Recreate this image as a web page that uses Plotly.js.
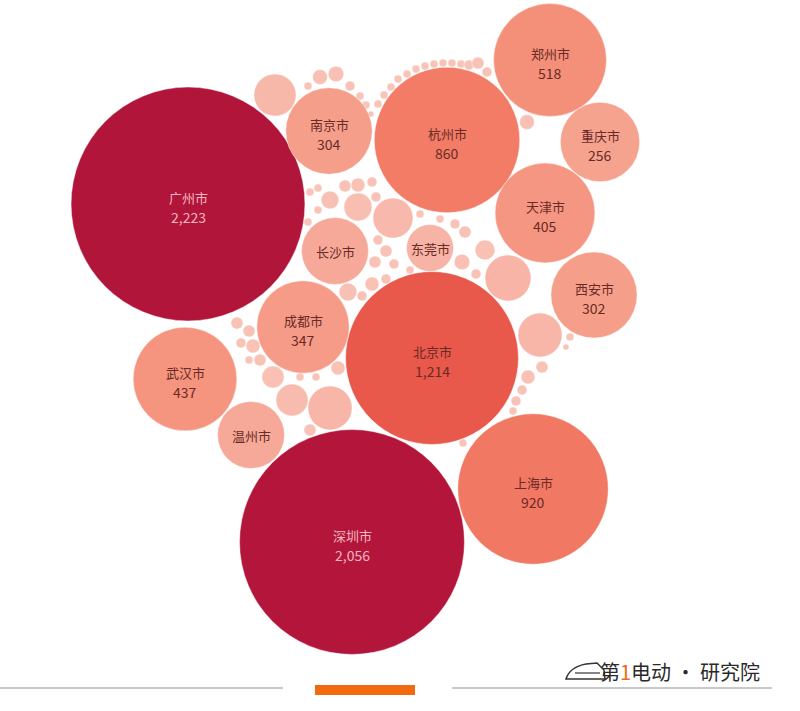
<!DOCTYPE html>
<html>
<head>
<meta charset="utf-8">
<script src="https://cdn.plot.ly/plotly-3.0.1.min.js"></script>
<style>html,body{margin:0;padding:0;background:#fff;}#chart{width:800px;height:711px;}</style>
</head>
<body>
<div id="chart"></div>
<script>
// Labelled cities and their values
const cities = ['广州市','深圳市','北京市','上海市','杭州市','郑州市','武汉市','天津市','成都市','南京市','西安市','重庆市','长沙市','温州市','东莞市'];
const values = [2223, 2056, 1214, 920, 860, 518, 437, 405, 347, 304, 302, 256, 182, 182, 90];
const valueShown = [true,true,true,true,true,true,true,true,true,true,true,true,false,false,false];
// Pack layout positions of the labelled bubbles (axis units)
const packX = [188, 352, 432, 533, 447, 550, 185, 545, 303, 329, 594, 600, 335, 251, 430];
const packY = [204, 542, 358, 489, 140, 60, 379, 213, 327, 131, 295, 142, 251, 435, 248];

// Unlabelled small cities: estimated values
const minorValues = [72,9,10,2.6,4,2.6,2.6,1.5,2.6,2.6,2.6,2.6,2.6,2.6,2.6,2.6,2.6,2.6,2.6,4,6,4,9,
  13,6,8,4,32,65,2.6,2.6,2.6,2.6,4,2.6,2.6,4,4,6,6,4,4,8,4,2.6,13,6,16,10,4,86,79,2.6,1.5,6,8,4,4,2.6,2.6,
  20,42,79,6,8,6,6,8,4,6,2.6,2.6,2.6];
// Pack layout positions of the unlabelled bubbles (axis units)
const minorX = [275,320,336,308,350,360,366,371,378,384,391,398,407,416,425,434,443,452,461,469,478,487,527,
  330,345,358,372,358,393,318,308,310,318,376,420,440,455,378,386,375,394,386,372,362,410,348,465,485,462,476,508,540,570,566,542,528,522,516,513,463,
  273,292,330,310,338,237,249,253,241,260,249,300,316];
const minorY = [95,77,74,86,86,96,105,114,104,95,87,79,74,69,66,64,63,63,64,65,63,72,122,
  200,186,185,182,207,218,210,222,192,188,197,214,219,224,240,251,262,264,279,284,296,270,292,232,250,262,274,278,335,337,347,367,377,390,401,411,443,
  377,400,408,430,368,323,331,346,343,360,360,377,377];

const maxValue = 2223;
const sizeRef = 0.0813;
const colorScale = [
  [0.0, '#F9C3B7'], [0.04, '#F7B4A6'], [0.09, '#F6A795'], [0.14, '#F59E8A'],
  [0.2, '#F5937E'], [0.3, '#F38670'], [0.4, '#F27B65'], [0.55, '#E8574A'],
  [0.72, '#CE3241'], [0.88, '#B6173B'], [1.0, '#B1153A']
];

function fmt(v){ return v.toLocaleString('en-US'); }
const fontFam = '"Noto Sans CJK SC", "Noto Sans", sans-serif';

const markerBase = {
  sizemode: 'area', sizeref: sizeRef, cmin: 0, cmax: maxValue,
  colorscale: colorScale, opacity: 1,
  line: {color: 'rgba(255,255,255,0.55)', width: 0.8}
};

const minorTrace = {
  type: 'scatter', mode: 'markers', x: minorX, y: minorY,
  marker: Object.assign({}, markerBase, {size: minorValues, color: minorValues}),
  hoverinfo: 'skip', showlegend: false
};
const mainTrace = {
  type: 'scatter', mode: 'markers', x: packX, y: packY,
  marker: Object.assign({}, markerBase, {size: values, color: values}),
  hoverinfo: 'skip', showlegend: false
};

// Labels placed at the bubbles' data positions
const labelAnns = [];
cities.forEach((c, i) => {
  const col = values[i] > 1500 ? '#F4B7C1' : '#6A2A25';
  if (valueShown[i]) {
    labelAnns.push({xref: 'x', yref: 'y', x: packX[i], y: packY[i], yshift: 7, showarrow: false,
      text: c, font: {family: fontFam, size: 13, color: col}});
    labelAnns.push({xref: 'x', yref: 'y', x: packX[i], y: packY[i], yshift: -13, showarrow: false,
      text: fmt(values[i]), font: {family: fontFam, size: 14, color: col}});
  } else {
    labelAnns.push({xref: 'x', yref: 'y', x: packX[i], y: packY[i], yshift: 0, showarrow: false,
      text: c, font: {family: fontFam, size: 13, color: col}});
  }
});

const layout = {
  width: 800, height: 711,
  margin: {l: 0, r: 0, t: 0, b: 0},
  paper_bgcolor: '#ffffff', plot_bgcolor: '#ffffff',
  xaxis: {range: [0, 800], visible: false, fixedrange: true},
  yaxis: {range: [711, 0], visible: false, fixedrange: true},
  showlegend: false,
  shapes: [
    {type: 'line', xref: 'x', yref: 'y', x0: 0, x1: 283, y0: 688, y1: 688, line: {color: '#C9C9C9', width: 2}},
    {type: 'line', xref: 'x', yref: 'y', x0: 452, x1: 772, y0: 688, y1: 688, line: {color: '#C9C9C9', width: 2}},
    {type: 'rect', xref: 'x', yref: 'y', x0: 315, x1: 415, y0: 685, y1: 695, fillcolor: '#F26A10', line: {width: 0}},
    {type: 'path', xref: 'x', yref: 'y', path: 'M 566 679 C 568 672, 575 666, 586 664 L 597 663 L 604 670 L 605 679 Z', line: {color: '#333', width: 1.5}},
    {type: 'line', xref: 'x', yref: 'y', x0: 575, x1: 600, y0: 673, y1: 673, line: {color: '#333', width: 1.2}}
  ],
  annotations: labelAnns.concat([
    {xref: 'x', yref: 'y', x: 680, y: 671, showarrow: false,
     text: '第<span style="color:#F26A10">1</span>电动 · 研究院',
     font: {family: '"Noto Sans CJK SC", sans-serif', size: 20, color: '#2A2A2A'}}
  ])
};

Plotly.newPlot('chart', [minorTrace, mainTrace], layout, {staticPlot: true, displayModeBar: false});
</script>
</body>
</html>
